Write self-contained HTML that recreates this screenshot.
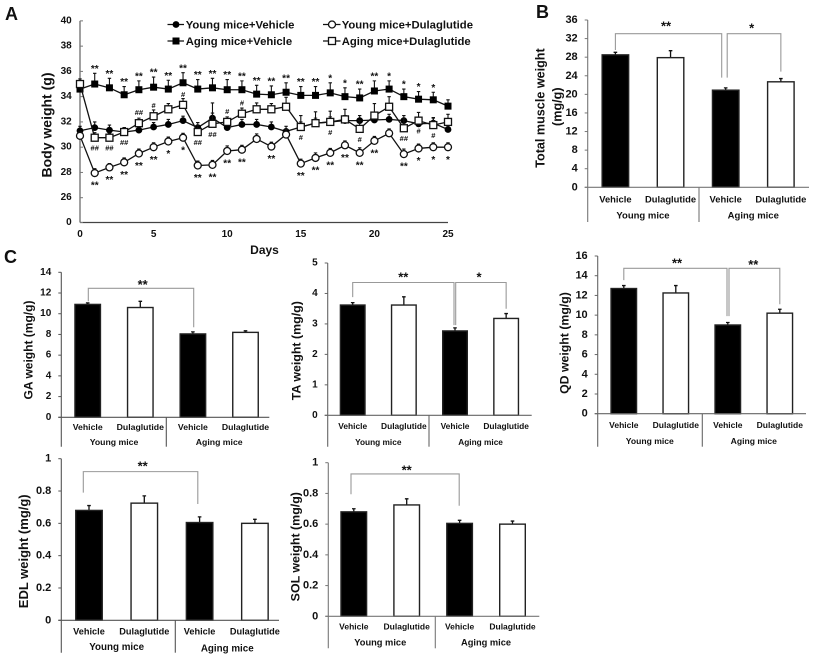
<!DOCTYPE html>
<html lang="en">
<head>
<meta charset="utf-8">
<title>Body and muscle weight charts</title>
<style>
  html, body { margin: 0; padding: 0; background: #fff; }
  svg { display: block; filter: blur(0.3px); }
  text { font-family: "Liberation Sans", Arial, sans-serif; font-weight: bold; fill: #111; }
</style>
</head>
<body>
<svg id="figure" xmlns="http://www.w3.org/2000/svg" width="816" height="660" viewBox="0 0 816 660">
  <rect width="816" height="660" fill="#fff"/>
  <text x="5" y="20" font-size="18">A</text>
  <text x="536" y="18" font-size="18">B</text>
  <text x="4" y="263" font-size="18">C</text>
  <g font-size="11.3">
    <g>
      <line x1="167.5" x2="184" y1="24.5" y2="24.5" stroke="#111" stroke-width="1.3"/>
      <circle cx="176" cy="24.5" r="3.4" fill="#000"/>
      <text x="185.7" y="28.5" font-size="11.3">Young mice+Vehicle</text>
    </g>
    <g>
      <line x1="167.5" x2="184" y1="41" y2="41" stroke="#111" stroke-width="1.3"/>
      <rect x="172.5" y="37.5" width="7" height="7" fill="#000"/>
      <text x="185.7" y="45" font-size="11.3">Aging mice+Vehicle</text>
    </g>
    <g>
      <line x1="323" x2="340.5" y1="24.5" y2="24.5" stroke="#111" stroke-width="1.3"/>
      <circle cx="332" cy="24.5" r="3.5" fill="#fff" stroke="#111" stroke-width="1.3"/>
      <text x="341.7" y="28.5" font-size="11.3">Young mice+Dulaglutide</text>
    </g>
    <g>
      <line x1="323" x2="340.5" y1="41" y2="41" stroke="#111" stroke-width="1.3"/>
      <rect x="328.5" y="37.5" width="7" height="7" fill="#fff" stroke="#111" stroke-width="1.3"/>
      <text x="341.7" y="45" font-size="11.3">Aging mice+Dulaglutide</text>
    </g>
  </g>
</svg>
<script>
// ---------- Panel A data ----------
const days = [0,1,2,3,4,5,6,7,8,9,10,11,12,13,14,15,16,17,18,19,20,21,22,23,24,25];
const xTickDays = [0,5,10,15,20,25];
const yTicksA = [0,26,28,30,32,34,36,38,40];
const youngVehicle = [31.3,31.55,31.35,31.2,31.35,31.6,31.8,32.1,31.55,32.3,31.55,31.8,31.8,31.6,31.25,31.6,31.9,32.0,32.1,32.1,32.15,32.2,32.1,31.85,31.9,31.4];
const youngVehicleErr = [0.35,0.45,0.4,0.35,0.35,0.35,0.4,0.35,0.4,0.4,0.3,0.4,0.4,0.4,0.4,0.4,0.4,0.4,0.4,0.4,0.4,0.4,0.4,0.4,0.4,0.3];
const youngDula = [30.9,27.95,28.4,28.8,29.5,30.0,30.45,30.75,28.55,28.6,29.7,29.8,30.65,30.05,31.0,28.7,29.15,29.55,30.15,29.55,30.5,31.1,29.45,29.9,30.0,30.0];
const youngDulaErr = [0.3,0.35,0.3,0.35,0.35,0.35,0.35,0.35,0.35,0.35,0.4,0.35,0.4,0.35,0.4,0.35,0.4,0.35,0.35,0.4,0.35,0.35,0.4,0.35,0.35,0.35];
const agingVehicle = [34.6,35.0,34.7,34.15,34.55,34.75,34.6,35.1,34.6,34.7,34.55,34.55,34.2,34.15,34.35,34.1,34.1,34.3,34.0,33.9,34.45,34.6,34.0,33.8,33.75,33.25];
const agingVehicleErr = [0.3,0.85,0.75,0.65,0.7,0.8,0.7,0.8,0.75,0.75,0.8,0.7,0.7,0.7,0.75,0.7,0.7,0.8,0.7,0.7,0.8,0.65,0.6,0.6,0.6,0.5];
const agingDula = [35.0,30.75,30.75,31.2,31.9,32.45,33.0,33.35,31.2,31.85,32.0,32.65,33.0,33.0,33.2,31.6,31.9,32.0,32.2,31.45,32.5,33.2,31.5,32.1,31.75,32.0];
const agingDulaErr = [0.4,0.4,0.35,0.35,0.4,0.5,0.45,0.5,0.55,1.65,0.4,0.45,0.5,0.45,0.75,0.9,0.9,0.85,0.8,0.65,0.95,0.8,0.8,0.65,0.6,0.6];
const agingVehicleStars = ["","**","**","**","**","**","**","**","**","**","**","**","**","**","**","**","**","*","*","**","**","*","*","*","*",""];
const youngDulaStars = ["","**","**","**","**","**","*","*","**","**","**","**","","**","","**","**","**","**","**","**","","**","*","*","*"];
const hashLabels = ["","##","##","##","##","#","","#","##","##","#","#","","","","#","","#","","#","","","##","#","#",""];
const hashSides = [0,1,1,1,-1,-1,0,-1,1,1,-1,-1,0,0,0,1,0,1,0,1,0,0,1,1,1,0];

// ---------- Bar panel data ----------
const categoryLabels = ["Vehicle","Dulaglutide","Vehicle","Dulaglutide"];
const groupLabels = ["Young mice","Aging mice"];
const totalValues = [28.5,27.9,20.9,22.7];
const totalErrors = [0.55,1.5,0.5,0.7];
const totalTicks = [0,4,8,12,16,20,24,28,32,36];
const gaValues = [10.9,10.6,8.05,8.2];
const gaErrors = [0.15,0.6,0.2,0.15];
const gaTicks = [0,2,4,6,8,10,12,14];
const taValues = [3.62,3.62,2.77,3.18];
const taErrors = [0.08,0.27,0.1,0.16];
const taTicks = [0,1,2,3,4,5];
const qdValues = [12.7,12.25,9.0,10.2];
const qdErrors = [0.3,0.75,0.25,0.4];
const qdTicks = [0,2,4,6,8,10,12,14,16];
const edlValues = [0.68,0.725,0.605,0.6];
const edlErrors = [0.03,0.045,0.035,0.025];
const edlTicks = [0,0.2,0.4,0.6,0.8,1];
const solValues = [0.68,0.725,0.605,0.6];
const solErrors = [0.02,0.04,0.02,0.02];
const solTicks = [0,0.2,0.4,0.6,0.8,1];

// ---------- Helpers ----------
const NS = 'http://www.w3.org/2000/svg';
const root = document.getElementById('figure');
function make(tag, parent, attrs) {
  const el = document.createElementNS(NS, tag);
  for (const k in attrs) el.setAttribute(k, attrs[k]);
  parent.appendChild(el);
  return el;
}
function label(parent, str, x, y, size, anchor, rotate) {
  const t = make('text', parent, { x: x, y: y, 'font-size': size, 'text-anchor': anchor || 'middle', 'dominant-baseline': 'central' });
  if (rotate) t.setAttribute('transform', 'rotate(' + rotate + ' ' + x + ' ' + y + ')');
  t.textContent = str;
  return t;
}
function stars(parent, str, x, cy, size) {
  const base = cy + size * 0.56;
  const t = make('text', parent, { x: x, y: base, 'font-size': size, 'text-anchor': 'middle' });
  t.textContent = str;
  return t;
}
function seg(parent, x1, y1, x2, y2, color, w) {
  return make('line', parent, { x1: x1, y1: y1, x2: x2, y2: y2, stroke: color, 'stroke-width': w });
}

// ---------- Panel A ----------
const xA = d => 80 + d * 14.72;
const yA = v => v >= 26 ? 197.7 - (v - 26) * 12.63 : 222.5 - v / 26 * 24.8;

const panelA = make('g', root, {});



const yAxisA = seg(panelA, xA(0), yA(40), xA(0), yA(0), '#777', 1.4);


const xAxisA = seg(panelA, xA(0), yA(0), xA(25), yA(0), '#444', 1.2);



yTicksA.forEach(v => {
  const tick = seg(panelA, xA(0), yA(v), xA(0) + 3, yA(v), '#777', 1);
  
  
  const lab = label(panelA, String(v), 71.7, yA(v), 10, 'end');
  
  
});
xTickDays.forEach(d => {
  const lab = label(panelA, String(d), xA(d), 234.5, 10);
  
  
});
const yTitleA = label(panelA, 'Body weight (g)', 46.5, 125, 14, 'middle', -90);


const xTitleA = label(panelA, 'Days', 264.5, 250, 12);



function drawSeries(name, values, errors, shape, fill) {
  const g = make('g', panelA, {});
  
  
  values.forEach((v, i) => {
    const e = make('path', g, { d: 'M' + xA(days[i]) + ' ' + yA(v) + 'V' + yA(v + errors[i]) + 'm-1.7 0h3.4', stroke: '#111', 'stroke-width': 1.1, fill: 'none' });
    
    
  });
  const pts = values.map((v, i) => xA(days[i]) + ',' + yA(v)).join(' ');
  const line = make('polyline', g, { points: pts, fill: 'none', stroke: '#111', 'stroke-width': 1.3 });
  
  
  values.forEach((v, i) => {
    const cx = xA(days[i]), cy = yA(v);
    const m = shape === 'circle'
      ? make('circle', g, { cx: cx, cy: cy, r: fill === '#000' ? 3.4 : 3.5, fill: fill, stroke: '#111', 'stroke-width': fill === '#000' ? 0 : 1.3 })
      : make('rect', g, { x: cx - 3.5, y: cy - 3.5, width: 7, height: 7, fill: fill, stroke: '#111', 'stroke-width': fill === '#000' ? 0 : 1.3 });
    
    
  });
}
drawSeries('young-vehicle', youngVehicle, youngVehicleErr, 'circle', '#000');
drawSeries('aging-vehicle', agingVehicle, agingVehicleErr, 'rect', '#000');
drawSeries('aging-dulaglutide', agingDula, agingDulaErr, 'rect', '#fff');
drawSeries('young-dulaglutide', youngDula, youngDulaErr, 'circle', '#fff');

days.forEach((d, i) => {
  if (agingVehicleStars[i]) {
    const a = stars(panelA, agingVehicleStars[i], xA(d), yA(agingVehicle[i] + agingVehicleErr[i]) - 7, 10);
    
    
  }
  if (youngDulaStars[i]) {
    const b = stars(panelA, youngDulaStars[i], xA(d), yA(youngDula[i]) + 10, 10);
    
    
  }
  if (hashLabels[i]) {
    const c = label(panelA, hashLabels[i], xA(d), yA(agingDula[i]) + hashSides[i] * 10.5, 7.5);
    
    
  }
});

// ---------- Bar panels ----------
function drawBars(cfg) {
  const y = v => cfg.zero - v / cfg.max * (cfg.zero - cfg.top);
  const x = i => cfg.first + i * cfg.step;
  const g = make('g', root, {});
  
  

  const yAxis = seg(g, cfg.axis, cfg.top, cfg.axis, cfg.bottom, cfg.axisColor, 1.1);
  
  
  const divider = seg(g, cfg.divider, cfg.zero, cfg.divider, cfg.bottom, cfg.axisColor, 1.1);
  
  

  cfg.ticks.forEach(v => {
    const tick = seg(g, cfg.axis - 3, y(v), cfg.axis, y(v), cfg.axisColor, 1);
    
    
    const lab = label(g, String(v), cfg.axis - 10, y(v), cfg.tickSize, 'end');
    
    
  });

  cfg.values.forEach((v, i) => {
    const black = i % 2 === 0;
    const err = make('path', g, { d: 'M' + x(i) + ' ' + y(v) + 'V' + y(v + cfg.errors[i]) + 'm-1.8 0h3.6', stroke: '#111', 'stroke-width': 1.3, fill: 'none' });
    
    
    const bar = make('rect', g, { x: x(i) - cfg.barW / 2, y: y(v), width: cfg.barW, height: cfg.zero - y(v), fill: black ? '#000' : '#fff', stroke: '#222', 'stroke-width': 1.4 });
    
    
    const cat = label(g, categoryLabels[i], x(i), cfg.catY, cfg.catSize);
    
    
  });

  const base = seg(g, cfg.axis - 3, cfg.zero, cfg.right, cfg.zero, cfg.axisColor, 1.2);
  
  

  groupLabels.forEach((s, i) => {
    const gl = label(g, s, (x(i * 2) + x(i * 2 + 1)) / 2, cfg.groupY[i], cfg.groupSize);
    
    
  });

  cfg.titles.forEach(tt => {
    const t = label(g, tt.text, tt.x, tt.y, tt.size, 'middle', -90);
    
    
  });

  cfg.brackets.forEach(b => {
    const x1 = x(b.from) + b.dx1, x2 = x(b.to) + b.dx2;
    const br = make('path', g, { d: 'M' + x1 + ' ' + y(b.left) + 'V' + y(b.peak) + 'H' + x2 + 'V' + y(b.right), fill: 'none', stroke: '#999', 'stroke-width': 1.1 });
    
    
    const st = stars(g, b.mark, b.sx, b.sy, 13);
    
    
  });
}

drawBars({ name: 'total-muscle', values: totalValues, errors: totalErrors, ticks: totalTicks, max: 36,
  axis: 587.7, zero: 187.3, top: 20, bottom: 222, right: 809, divider: 699, axisColor: '#777',
  first: 615.4, step: 55.15, barW: 26.5, catY: 199, groupY: [216, 216], catSize: 9.4, groupSize: 9.5, tickSize: 11,
  titles: [{ text: 'Total muscle weight', x: 540.7, y: 108, size: 12.6 }, { text: '(mg/g)', x: 557.3, y: 106.7, size: 12.6 }],
  brackets: [
    { from: 0, to: 2, dx1: 0, dx2: -4, left: 29.55, peak: 33.05, right: 23.6, mark: '**', sx: 666, sy: 23 },
    { from: 2, to: 3, dx1: 1.5, dx2: 0, left: 23.6, peak: 33.05, right: 24.9, mark: '*', sx: 751.7, sy: 25 }
  ] });

drawBars({ name: 'ga-weight', values: gaValues, errors: gaErrors, ticks: gaTicks, max: 14,
  axis: 61.3, zero: 417.3, top: 272.3, bottom: 446.7, right: 269.3, divider: 166.3, axisColor: '#555',
  first: 87.7, step: 52.6, barW: 25.5, catY: 427, groupY: [442, 442], catSize: 8.7, groupSize: 8.7, tickSize: 10,
  titles: [{ text: 'GA weight (mg/g)', x: 28.3, y: 350, size: 12 }],
  brackets: [{ from: 0, to: 2, dx1: 0.6, dx2: 0.8, left: 11.2, peak: 12.45, right: 8.7, mark: '**', sx: 142.7, sy: 281.7 }] });

drawBars({ name: 'ta-weight', values: taValues, errors: taErrors, ticks: taTicks, max: 5,
  axis: 327.7, zero: 415.3, top: 263, bottom: 446.7, right: 531.7, divider: 429, axisColor: '#666',
  first: 352.7, step: 51.15, barW: 24.6, catY: 426, groupY: [442, 442], catSize: 8.4, groupSize: 8.3, tickSize: 10,
  titles: [{ text: 'TA weight (mg/g)', x: 296.7, y: 350.7, size: 12.4 }],
  brackets: [
    { from: 0, to: 2, dx1: 0, dx2: -1, left: 3.88, peak: 4.36, right: 2.96, mark: '**', sx: 403.3, sy: 274.3 },
    { from: 2, to: 3, dx1: 0.7, dx2: 0, left: 2.96, peak: 4.36, right: 3.5, mark: '*', sx: 479, sy: 274.3 }
  ] });

drawBars({ name: 'qd-weight', values: qdValues, errors: qdErrors, ticks: qdTicks, max: 16,
  axis: 597.7, zero: 413.7, top: 256, bottom: 446.7, right: 806, divider: 702.3, axisColor: '#666',
  first: 623.8, step: 52, barW: 25.5, catY: 425, groupY: [441, 441], catSize: 8.5, groupSize: 8.6, tickSize: 11,
  titles: [{ text: 'QD weight (mg/g)', x: 564.3, y: 343, size: 12.3 }],
  brackets: [
    { from: 0, to: 2, dx1: 0, dx2: -0.8, left: 13.55, peak: 14.75, right: 9.9, mark: '**', sx: 677, sy: 260 },
    { from: 2, to: 3, dx1: 1.2, dx2: 0, left: 9.9, peak: 14.75, right: 11.1, mark: '**', sx: 753.3, sy: 261.7 }
  ] });

drawBars({ name: 'edl-weight', values: edlValues, errors: edlErrors, ticks: edlTicks, max: 1,
  axis: 61.3, zero: 620.3, top: 458.7, bottom: 652.7, right: 279, divider: 175.3, axisColor: '#555',
  first: 89, step: 55.3, barW: 26.5, catY: 631.7, groupY: [647.7, 649], catSize: 9.2, groupSize: 9.8, tickSize: 11,
  titles: [{ text: 'EDL weight (mg/g)', x: 23.3, y: 551.3, size: 13 }],
  brackets: [{ from: 0, to: 2, dx1: -5.7, dx2: -1.8, left: 0.79, peak: 0.92, right: 0.72, mark: '**', sx: 142.7, sy: 463.3 }] });

drawBars({ name: 'sol-weight', values: solValues, errors: solErrors, ticks: solTicks, max: 1,
  axis: 328.3, zero: 616.3, top: 462.7, bottom: 648.3, right: 539.3, divider: 435.3, axisColor: '#777',
  first: 353.8, step: 52.9, barW: 25.6, catY: 626.7, groupY: [642.3, 642.3], catSize: 8.5, groupSize: 9.3, tickSize: 11,
  titles: [{ text: 'SOL weight (mg/g)', x: 295.7, y: 546.7, size: 12.4 }],
  brackets: [{ from: 0, to: 2, dx1: -2.8, dx2: -0.4, left: 0.795, peak: 0.927, right: 0.72, mark: '**', sx: 406.7, sy: 467.3 }] });
</script>
</body>
</html>
